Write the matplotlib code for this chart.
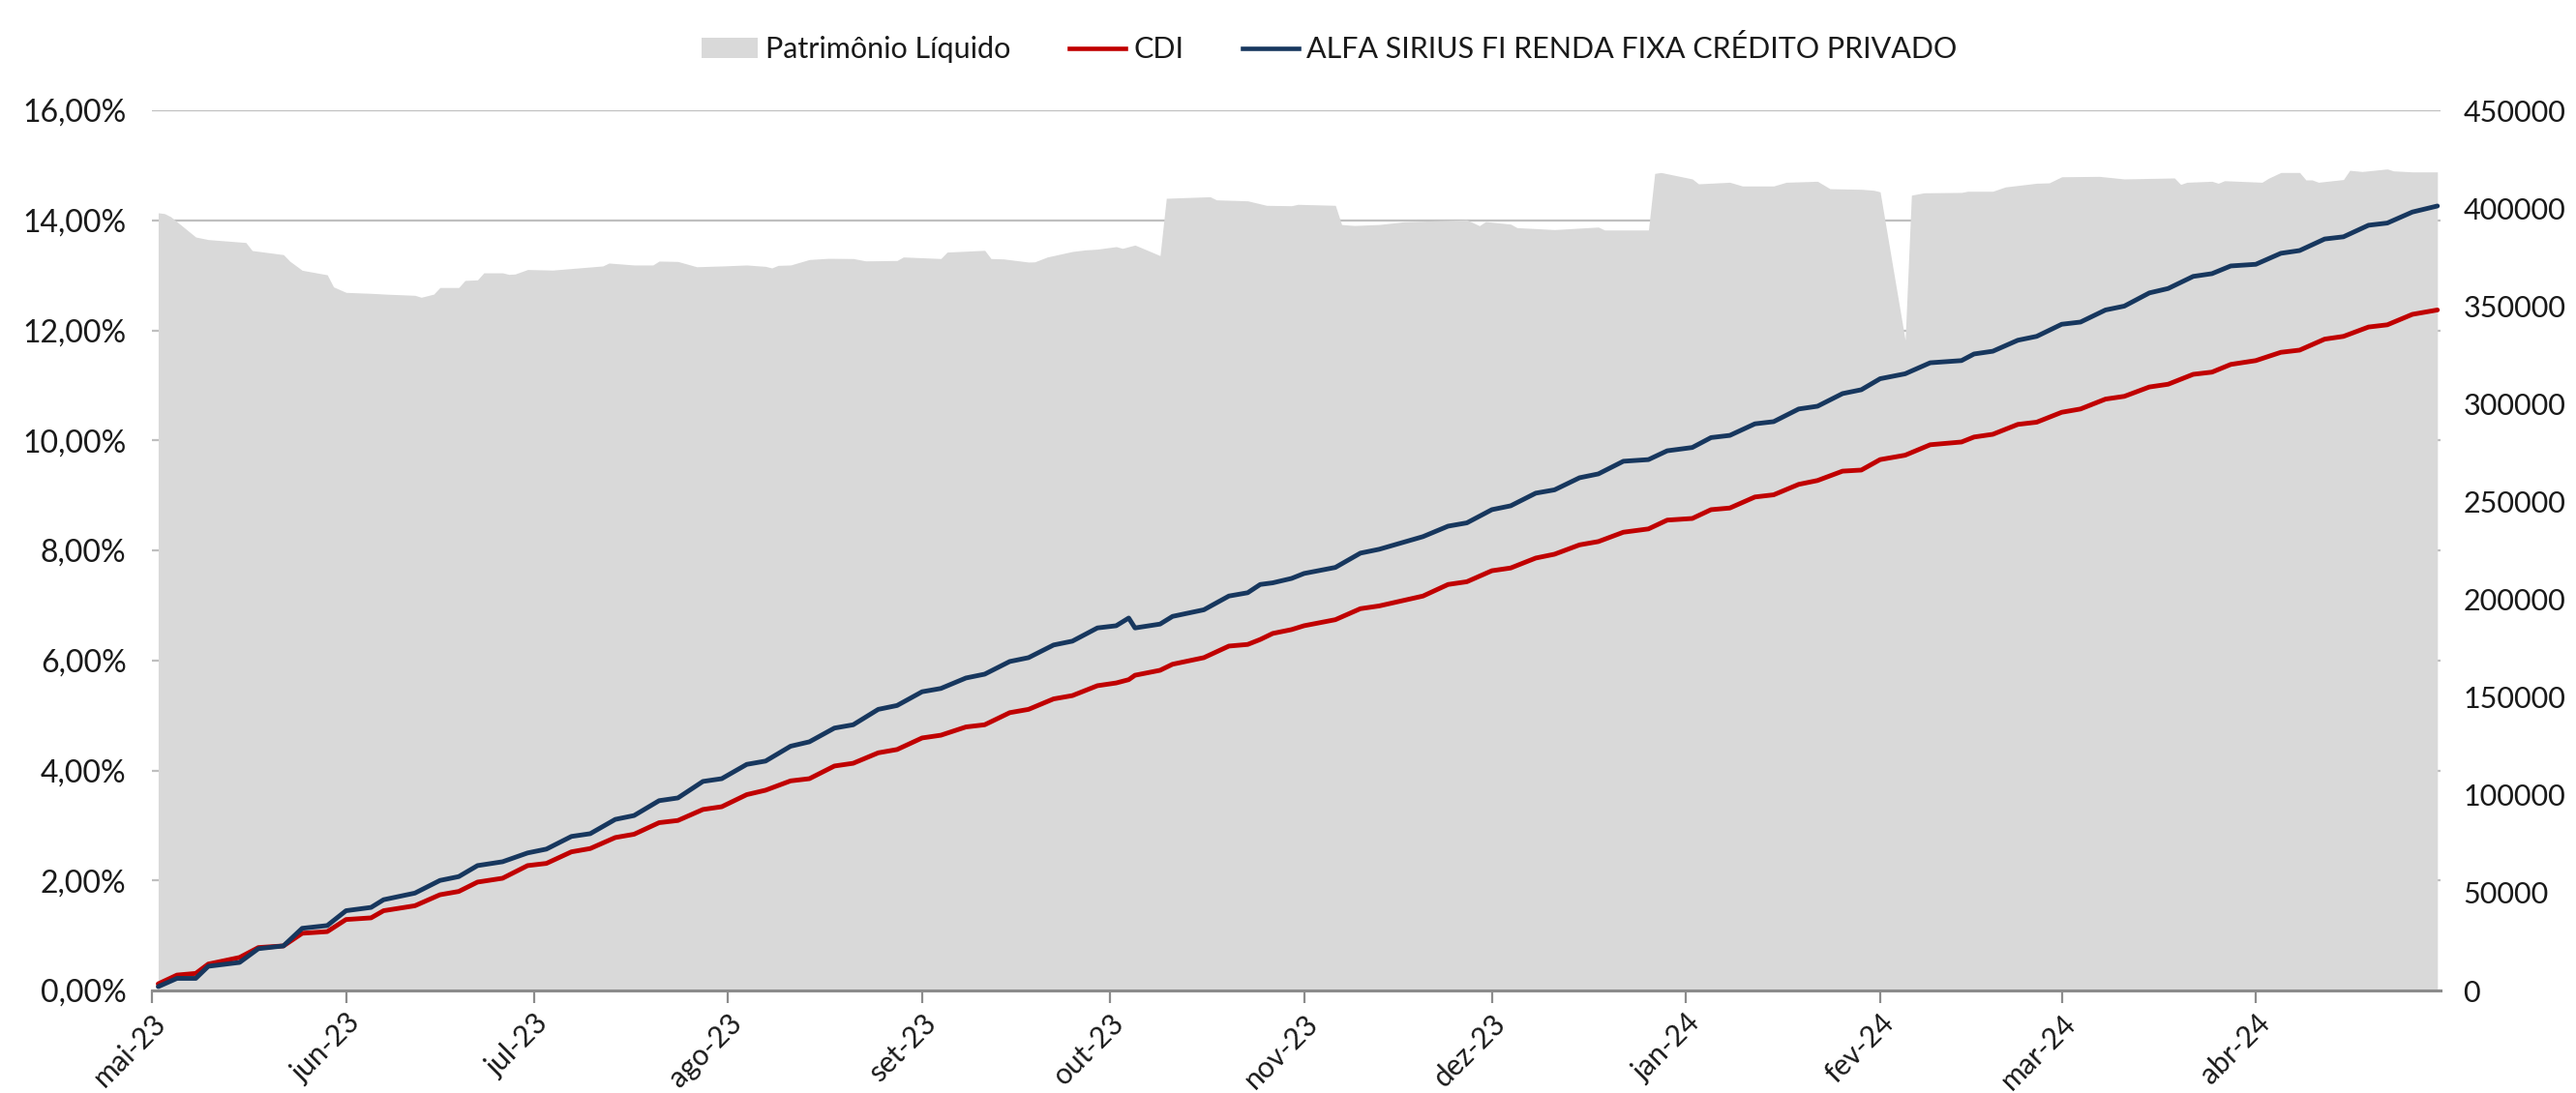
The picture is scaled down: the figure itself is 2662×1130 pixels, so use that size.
import matplotlib
matplotlib.use("Agg")
import matplotlib.pyplot as plt
from matplotlib.patches import Patch
from matplotlib.lines import Line2D
from matplotlib.ticker import FuncFormatter, MultipleLocator
import pandas as pd

plt.rcParams['font.family'] = ['Lato', 'DejaVu Sans']

### rentabilidade acumulada (%), leitura aproximada do grafico
ret_dates = [
    "2023-05-02", "2023-05-05", "2023-05-08", "2023-05-10", "2023-05-15", "2023-05-18",
    "2023-05-22", "2023-05-25", "2023-05-29", "2023-06-01", "2023-06-05", "2023-06-07",
    "2023-06-12", "2023-06-16", "2023-06-19", "2023-06-22", "2023-06-26", "2023-06-30",
    "2023-07-03", "2023-07-07", "2023-07-10", "2023-07-14", "2023-07-17", "2023-07-21",
    "2023-07-24", "2023-07-28", "2023-07-31", "2023-08-04", "2023-08-07", "2023-08-11",
    "2023-08-14", "2023-08-18", "2023-08-21", "2023-08-25", "2023-08-28", "2023-09-01",
    "2023-09-04", "2023-09-08", "2023-09-11", "2023-09-15", "2023-09-18", "2023-09-22",
    "2023-09-25", "2023-09-29", "2023-10-02", "2023-10-04", "2023-10-05", "2023-10-09",
    "2023-10-11", "2023-10-16", "2023-10-20", "2023-10-23", "2023-10-25", "2023-10-27",
    "2023-10-30", "2023-11-01", "2023-11-06", "2023-11-10", "2023-11-13", "2023-11-20",
    "2023-11-24", "2023-11-27", "2023-12-01", "2023-12-04", "2023-12-08", "2023-12-11",
    "2023-12-15", "2023-12-18", "2023-12-22", "2023-12-26", "2023-12-29", "2024-01-02",
    "2024-01-05", "2024-01-08", "2024-01-12", "2024-01-15", "2024-01-19", "2024-01-22",
    "2024-01-26", "2024-01-29", "2024-02-01", "2024-02-05", "2024-02-09", "2024-02-14",
    "2024-02-16", "2024-02-19", "2024-02-23", "2024-02-26", "2024-03-01", "2024-03-04",
    "2024-03-08", "2024-03-11", "2024-03-15", "2024-03-18", "2024-03-22", "2024-03-25",
    "2024-03-28", "2024-04-01", "2024-04-05", "2024-04-08", "2024-04-12", "2024-04-15",
    "2024-04-19", "2024-04-22", "2024-04-26", "2024-04-30",
]
fundo = [
    0.07, 0.22, 0.22, 0.44, 0.51, 0.76,
    0.81, 1.13, 1.18, 1.45, 1.51, 1.65,
    1.77, 2.00, 2.07, 2.27, 2.34, 2.50,
    2.57, 2.80, 2.85, 3.11, 3.18, 3.45,
    3.50, 3.80, 3.85, 4.11, 4.17, 4.44,
    4.52, 4.77, 4.83, 5.11, 5.18, 5.43,
    5.49, 5.68, 5.75, 5.98, 6.05, 6.28,
    6.35, 6.59, 6.63, 6.77, 6.59, 6.66,
    6.80, 6.92, 7.17, 7.23, 7.38, 7.41,
    7.49, 7.58, 7.69, 7.95, 8.02, 8.25,
    8.44, 8.50, 8.74, 8.81, 9.04, 9.10,
    9.32, 9.39, 9.62, 9.65, 9.81, 9.87,
    10.05, 10.09, 10.30, 10.34, 10.57, 10.62,
    10.85, 10.92, 11.12, 11.21, 11.41, 11.45,
    11.57, 11.62, 11.82, 11.89, 12.11, 12.15,
    12.37, 12.44, 12.68, 12.76, 12.98, 13.03,
    13.17, 13.20, 13.40, 13.45, 13.66, 13.70,
    13.91, 13.95, 14.15, 14.26,
]
cdi = [
    0.12, 0.28, 0.31, 0.48, 0.60, 0.78,
    0.81, 1.04, 1.07, 1.29, 1.32, 1.45,
    1.54, 1.74, 1.80, 1.97, 2.04, 2.27,
    2.31, 2.52, 2.58, 2.78, 2.84, 3.05,
    3.09, 3.29, 3.34, 3.56, 3.64, 3.81,
    3.85, 4.08, 4.13, 4.32, 4.38, 4.59,
    4.64, 4.79, 4.83, 5.05, 5.11, 5.30,
    5.36, 5.54, 5.59, 5.65, 5.73, 5.82,
    5.93, 6.05, 6.26, 6.29, 6.38, 6.49,
    6.56, 6.63, 6.74, 6.94, 6.99, 7.17,
    7.38, 7.43, 7.63, 7.68, 7.86, 7.93,
    8.10, 8.16, 8.33, 8.39, 8.55, 8.58,
    8.74, 8.77, 8.97, 9.01, 9.20, 9.27,
    9.44, 9.46, 9.65, 9.73, 9.92, 9.97,
    10.06, 10.11, 10.29, 10.33, 10.51, 10.57,
    10.75, 10.80, 10.97, 11.02, 11.20, 11.24,
    11.38, 11.45, 11.60, 11.64, 11.84, 11.89,
    12.06, 12.10, 12.29, 12.37,
]

### patrimonio liquido
pl_dates = [
    "2023-05-02", "2023-05-03", "2023-05-04", "2023-05-08", "2023-05-10", "2023-05-16",
    "2023-05-17", "2023-05-22", "2023-05-23", "2023-05-25", "2023-05-29", "2023-05-30",
    "2023-06-01", "2023-06-05", "2023-06-08", "2023-06-12", "2023-06-13", "2023-06-15",
    "2023-06-16", "2023-06-19", "2023-06-20", "2023-06-22", "2023-06-23", "2023-06-26",
    "2023-06-27", "2023-06-28", "2023-06-30", "2023-07-04", "2023-07-12", "2023-07-13",
    "2023-07-17", "2023-07-20", "2023-07-21", "2023-07-24", "2023-07-27", "2023-07-31",
    "2023-08-04", "2023-08-07", "2023-08-08", "2023-08-09", "2023-08-11", "2023-08-14",
    "2023-08-17", "2023-08-21", "2023-08-23", "2023-08-28", "2023-08-29", "2023-09-04",
    "2023-09-05", "2023-09-11", "2023-09-12", "2023-09-14", "2023-09-18", "2023-09-19",
    "2023-09-21", "2023-09-25", "2023-09-27", "2023-09-29", "2023-10-02", "2023-10-03",
    "2023-10-05", "2023-10-09", "2023-10-10", "2023-10-17", "2023-10-18", "2023-10-23",
    "2023-10-26", "2023-10-30", "2023-10-31", "2023-11-06", "2023-11-07", "2023-11-09",
    "2023-11-13", "2023-11-17", "2023-11-27", "2023-11-29", "2023-11-30", "2023-12-04",
    "2023-12-05", "2023-12-11", "2023-12-18", "2023-12-19", "2023-12-26", "2023-12-27",
    "2023-12-28", "2024-01-02", "2024-01-03", "2024-01-08", "2024-01-10", "2024-01-15",
    "2024-01-17", "2024-01-22", "2024-01-24", "2024-01-29", "2024-01-31", "2024-02-01",
    "2024-02-05", "2024-02-06", "2024-02-08", "2024-02-14", "2024-02-15", "2024-02-19",
    "2024-02-21", "2024-02-26", "2024-02-28", "2024-03-01", "2024-03-07", "2024-03-11",
    "2024-03-19", "2024-03-20", "2024-03-21", "2024-03-25", "2024-03-26", "2024-03-27",
    "2024-04-02", "2024-04-03", "2024-04-05", "2024-04-08", "2024-04-09", "2024-04-10",
    "2024-04-11", "2024-04-15", "2024-04-16", "2024-04-18", "2024-04-22", "2024-04-23",
    "2024-04-26", "2024-04-30",
]
pl = [
    397600, 397200, 395600, 385200, 383900, 382400,
    378300, 376200, 372900, 368200, 365900, 359700,
    356900, 356400, 355900, 355400, 354400, 356000,
    359400, 359400, 363000, 363300, 366900, 366900,
    366100, 366300, 368600, 368300, 370400, 371900,
    370900, 370900, 372900, 372700, 370000, 370400,
    370900, 370200, 369400, 370700, 370900, 373700,
    374300, 374200, 373000, 373200, 375000, 374200,
    377500, 378400, 374200, 374000, 372400, 372500,
    375000, 377800, 378600, 379000, 380300, 379400,
    381100, 375700, 405000, 405800, 404200, 403700,
    401400, 401200, 401900, 401400, 391600, 391100,
    391600, 393000, 394000, 391000, 393100, 391800,
    390000, 389000, 390300, 388800, 388800, 417700,
    418200, 414900, 412400, 413200, 411300, 411300,
    413200, 413700, 409900, 409600, 409100, 408300,
    332500, 406600, 407800, 408000, 408600, 408600,
    410800, 412700, 412900, 416000, 416200, 414900,
    415400, 412100, 413200, 413700, 412700, 414000,
    413200, 415200, 418200, 418200, 414400, 414400,
    413200, 414600, 419300, 418700, 420000, 419000,
    418500, 418500,
]

month_ticks = ["2023-05-01", "2023-06-01", "2023-07-01", "2023-08-01", "2023-09-01",
               "2023-10-01", "2023-11-01", "2023-12-01", "2024-01-01", "2024-02-01",
               "2024-03-01", "2024-04-01"]
month_labels = ["mai-23", "jun-23", "jul-23", "ago-23", "set-23", "out-23", "nov-23",
                "dez-23", "jan-24", "fev-24", "mar-24", "abr-24"]

ret_dates = pd.to_datetime(ret_dates)
pl_dates = pd.to_datetime(pl_dates)
month_ticks = pd.to_datetime(month_ticks)

GRAY = "#D9D9D9"
RED = "#C00000"
NAVY = "#17375E"
TXT = "#1a1a1a"
FS = 22

fig = plt.figure(figsize=(26.62, 11.30), dpi=100)
pos = [157 / 2662, 1 - 1024 / 1130, (2522 - 157) / 2662, (1024 - 114) / 1130]

# eixo base: escala da esquerda + grade (fica atras da area)
ax = fig.add_axes(pos)
ax.set_ylim(0, 16)
ax.yaxis.set_major_locator(MultipleLocator(2))
ax.yaxis.set_major_formatter(FuncFormatter(lambda v, p: ("%.2f%%" % v).replace(".", ",")))
ax.grid(axis="y", color="#BFBFBF", linewidth=1.6)
ax.tick_params(axis="y", length=0, pad=19, labelsize=FS + 1, labelcolor=TXT)

# PL no eixo secundario
ax2 = ax.twinx()
ax2.fill_between(pl_dates, pl, 0, color=GRAY, linewidth=0)
ax2.set_ylim(0, 450000)
ax2.yaxis.set_major_locator(MultipleLocator(50000))
ax2.tick_params(axis="y", length=0, pad=17, labelsize=FS, labelcolor=TXT)

# linhas na escala da esquerda
ax3 = ax.twinx()
ax3.set_ylim(ax.get_ylim())
ax3.plot(ret_dates, cdi, color=RED, linewidth=3.5, solid_capstyle="round")
ax3.plot(ret_dates, fundo, color=NAVY, linewidth=3.5, solid_capstyle="round")
ax3.set_yticks([])

for a in (ax, ax2, ax3):
    for s in ("top", "left", "right", "bottom"):
        a.spines[s].set_visible(False)
ax3.spines["bottom"].set_visible(True)
ax3.spines["bottom"].set_color("#8C8C8C")
ax3.spines["bottom"].set_linewidth(2.2)

ax.set_xlim(pd.Timestamp("2023-05-01"), pd.Timestamp("2024-04-30 12:00"))
ax.set_xticks(month_ticks)
ax.set_xticklabels(month_labels, rotation=45, ha="right", rotation_mode="anchor",
                   fontsize=FS - 0.5, color=TXT)
ax.tick_params(axis="x", length=9, width=1.6, color="#8C8C8C", pad=5)
ax3.tick_params(axis="x", length=0)

handles = [Patch(facecolor=GRAY, edgecolor="none"),
           Line2D([], [], color=RED, linewidth=3.3),
           Line2D([], [], color=NAVY, linewidth=3.3)]
names = ["Patrimônio Líquido", "CDI", "ALFA SIRIUS FI RENDA FIXA CRÉDITO PRIVADO"]
fig.legend(handles, names, loc="center", bbox_to_anchor=(0.516, 0.955), ncol=3,
           frameon=False, fontsize=FS, handlelength=1.9, handletextpad=0.25,
           columnspacing=2.0, labelcolor=TXT)

fig.savefig("out.png", dpi=100)
